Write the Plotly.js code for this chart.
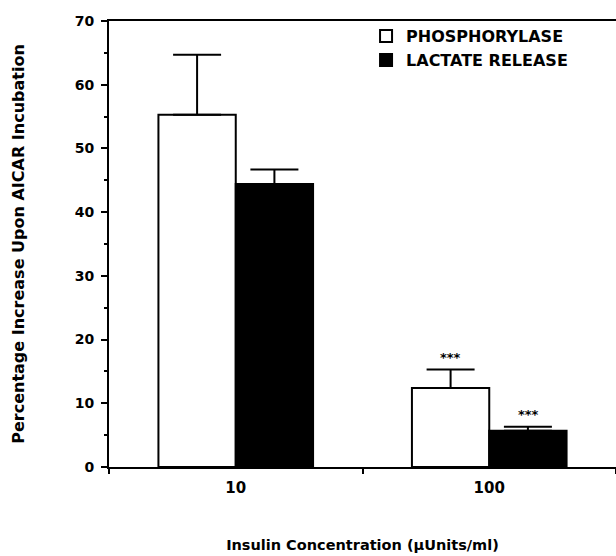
<!DOCTYPE html>
<html>
<head>
<meta charset="utf-8">
<script src="https://cdn.plot.ly/plotly-3.0.1.min.js"></script>
<style>html,body{margin:0;padding:0;background:#fff;}#chart{width:616px;height:556px;}</style>
</head>
<body>
<div id="chart"></div>
<script>
var categories = ["10", "100"];
var phosphorylase = [55.3, 12.4];
var phosphorylaseErr = [9.4, 2.9];
var lactate = [44.4, 5.7];
var lactateErr = [2.3, 0.6];
var phosphorylaseSig = ["", "***"];
var lactateSig = ["", "***"];

var F = "DejaVu Sans";

var traces = [
  {
    type: "bar", name: "PHOSPHORYLASE", x: categories, y: phosphorylase,
    marker: {color: "#ffffff", line: {color: "#000000", width: 2}},
    error_y: {type: "data", array: phosphorylaseErr, arrayminus: [0, 0], symmetric: false,
              color: "#000000", thickness: 2, width: 24}
  },
  {
    type: "bar", name: "LACTATE RELEASE", x: categories, y: lactate,
    marker: {color: "#000000", line: {color: "#000000", width: 2}},
    error_y: {type: "data", array: lactateErr, arrayminus: [0, 0], symmetric: false,
              color: "#000000", thickness: 2, width: 24}
  }
];

var annotations = [];
for (var i = 0; i < categories.length; i++) {
  if (phosphorylaseSig[i] !== "") {
    annotations.push({x: i, y: phosphorylase[i] + phosphorylaseErr[i], xref: "x", yref: "y",
      text: "<b>" + phosphorylaseSig[i] + "</b>", showarrow: false, xshift: -39, yanchor: "bottom", yshift: 3,
      font: {family: F, size: 13, color: "#000000"}});
  }
  if (lactateSig[i] !== "") {
    annotations.push({x: i, y: lactate[i] + lactateErr[i], xref: "x", yref: "y",
      text: "<b>" + lactateSig[i] + "</b>", showarrow: false, xshift: 39, yanchor: "bottom", yshift: 3,
      font: {family: F, size: 13, color: "#000000"}});
  }
}

var layout = {
  width: 616, height: 556,
  margin: {l: 109, r: 0, t: 21, b: 89},
  paper_bgcolor: "#ffffff", plot_bgcolor: "#ffffff",
  barmode: "group", bargap: 0.39, bargroupgap: 0,
  showlegend: true,
  legend: {x: 0.507, y: 1.004, xanchor: "left", yanchor: "top", bgcolor: "rgba(0,0,0,0)",
           font: {family: F, size: 16, weight: 700, color: "#000"}, tracegroupgap: 0},
  xaxis: {
    type: "category", range: [-0.5, 1.5], tickson: "boundaries",
    ticks: "outside", ticklen: 5, tickwidth: 2, tickcolor: "#000",
    ticklabelstandoff: 6,
    showline: true, linecolor: "#000", linewidth: 2, mirror: true,
    showgrid: false, zeroline: false,
    tickfont: {family: F, size: 15, weight: 700, color: "#000"},
    title: {text: "Insulin Concentration (µUnits/ml)", standoff: 44,
            font: {family: F, size: 14.5, weight: 700, color: "#000"}}
  },
  yaxis: {
    range: [0, 70], dtick: 10, tick0: 0,
    ticks: "outside", ticklen: 6, tickwidth: 2, tickcolor: "#000",
    ticklabelstandoff: 4,
    minor: {dtick: 5, ticks: "outside", ticklen: 3, tickwidth: 2, tickcolor: "#000"},
    showline: true, linecolor: "#000", linewidth: 2,
    showgrid: false, zeroline: false,
    tickfont: {family: F, size: 14, weight: 700, color: "#000"},
    title: {text: "Percentage Increase Upon AICAR Incubation", standoff: 46,
            font: {family: F, size: 16, weight: 700, color: "#000"}}
  },
  annotations: annotations
};

Plotly.newPlot("chart", traces, layout, {displayModeBar: false, staticPlot: true});
</script>
</body>
</html>
